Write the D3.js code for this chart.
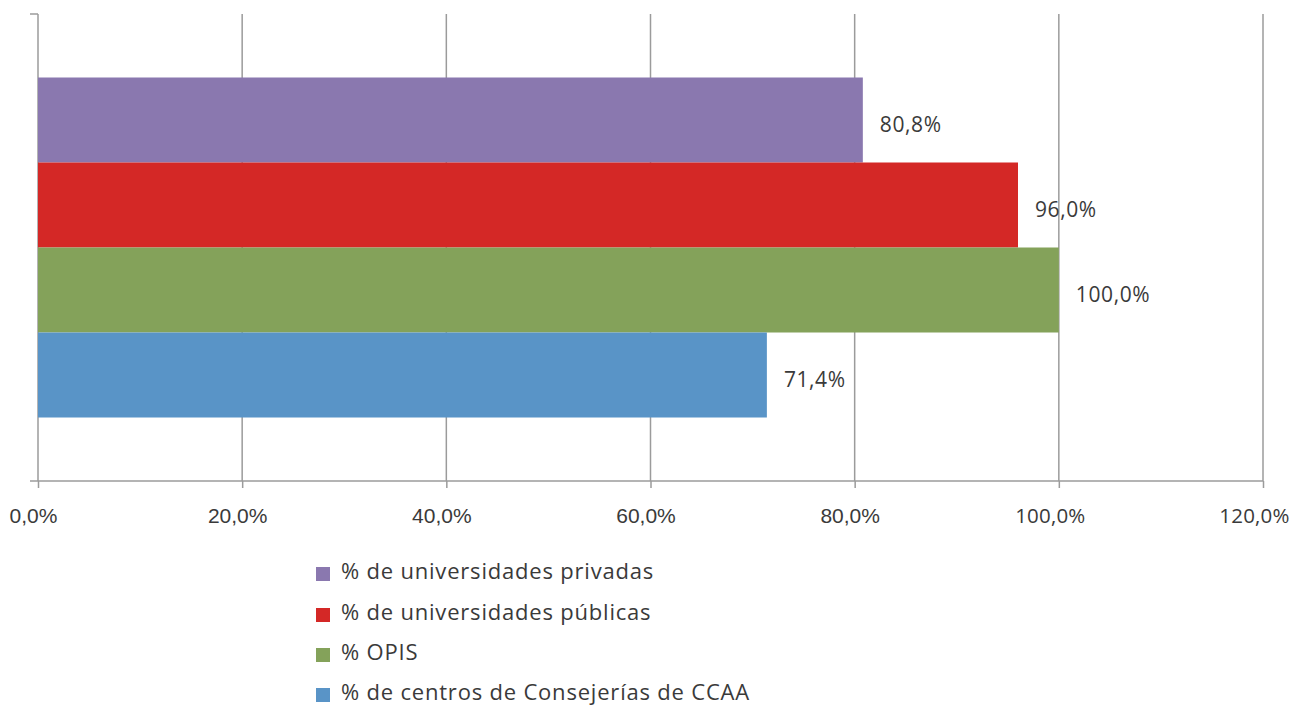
<!DOCTYPE html>
<html>
<head>
<meta charset="utf-8">
<script src="https://cdn.jsdelivr.net/npm/d3@7"></script>
<style>
  html, body { margin: 0; padding: 0; background: #fff; }
  svg { display: block; font-family: "Open Sans", "Lato", sans-serif; }
</style>
</head>
<body>
<svg id="chart" width="1290" height="706"></svg>
<script>
// Series shown as horizontal bars within a single category band
const seriesNames = [
  "% de universidades privadas",
  "% de universidades públicas",
  "% OPIS",
  "% de centros de Consejerías de CCAA"
];
const seriesValues = [80.8, 96.0, 100.0, 71.4];
const seriesColors = ["#8a78af", "#d42826", "#84a25a", "#5994c7"];
const xTicks = [0, 20, 40, 60, 80, 100, 120];

const fmt = v => v.toFixed(1).replace(".", ",") + "%";

const svg = d3.select("#chart");
const plot = { left: 38, right: 1263, top: 14, bottom: 481 };
const gridColor = "#9b9b9b";
const textColor = "#3a3a3a";
const mainFont = "'Open Sans', 'Lato', sans-serif";

const x = d3.scaleLinear().domain([0, 120]).range([plot.left, plot.right]);

// one category band, with the four series stacked inside it
const band = d3.scaleBand().domain(["all"]).range([plot.top, plot.bottom]);
const inner = d3.scaleBand().domain(d3.range(seriesValues.length))
  .range([band("all") + 63.5, band("all") + band.bandwidth() - 63.5]);

// vertical gridlines
svg.append("g").selectAll("line").data(xTicks).join("line")
  .attr("x1", d => x(d)).attr("x2", d => x(d))
  .attr("y1", plot.top).attr("y2", plot.bottom)
  .attr("stroke", gridColor).attr("stroke-width", 1.5);

// bottom axis with ticks below the baseline
const xAxis = d3.axisBottom(x).tickValues(xTicks).tickSize(7).tickFormat(fmt);
const gx = svg.append("g").attr("transform", `translate(0,${plot.bottom})`).call(xAxis);
gx.attr("font-family", null).attr("font-size", null);
gx.select(".domain").remove();
gx.selectAll(".tick line").attr("stroke", gridColor).attr("stroke-width", 1.5);
gx.selectAll(".tick text")
  .attr("x", d => d >= 100 ? -9 : -5)
  .attr("y", 42).attr("dy", null)
  .attr("fill", textColor)
  .style("font-family", d => d >= 100 ? mainFont : "'Liberation Sans', Arial, sans-serif")
  .style("font-size", d => d >= 100 ? "20.5px" : "21px")
  .style("letter-spacing", d => d >= 100 ? "0.2px" : null);

// horizontal axis line
svg.append("line")
  .attr("x1", plot.left - 8).attr("x2", plot.right)
  .attr("y1", plot.bottom).attr("y2", plot.bottom)
  .attr("stroke", gridColor).attr("stroke-width", 1.5);

// category axis tick at top
svg.append("line")
  .attr("x1", plot.left - 8).attr("x2", plot.left)
  .attr("y1", plot.top).attr("y2", plot.top)
  .attr("stroke", gridColor).attr("stroke-width", 1.5);

// bars
svg.append("g").selectAll("rect").data(seriesValues).join("rect")
  .attr("x", x(0))
  .attr("y", (d, i) => inner(i))
  .attr("width", d => x(d) - x(0))
  .attr("height", inner.bandwidth())
  .attr("fill", (d, i) => seriesColors[i]);

// value labels
svg.append("g").selectAll("text").data(seriesValues).join("text")
  .attr("x", d => x(d) + 17)
  .attr("y", (d, i) => inner(i) + inner.bandwidth() / 2 + 12)
  .attr("fill", textColor)
  .style("font-size", "21px").style("letter-spacing", "0.6px")
  .text(fmt);

// legend
const legend = svg.append("g").attr("transform", "translate(316,0)");
const rowBase = [579, 620, 660, 700];
const items = legend.selectAll("g").data(seriesNames).join("g")
  .attr("transform", (d, i) => `translate(0,${rowBase[i]})`);
items.append("rect").attr("y", -12).attr("width", 14).attr("height", 14)
  .attr("fill", (d, i) => seriesColors[i]);
items.append("text").attr("x", 25).attr("y", 0)
  .attr("fill", textColor).style("font-size", "22px").style("letter-spacing", "0.8px")
  .text(d => d);
</script>
</body>
</html>
